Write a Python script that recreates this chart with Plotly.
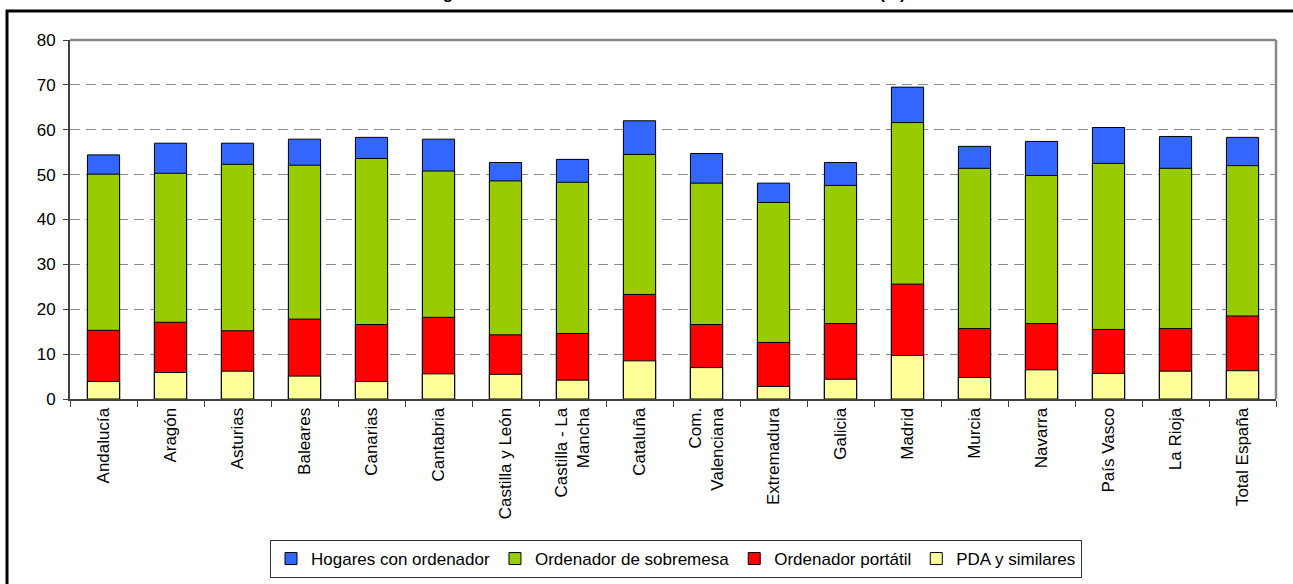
import plotly.graph_objects as go

categories = ["Andalucía", "Aragón", "Asturias", "Baleares", "Canarias", "Cantabria",
              "Castilla y León", "Castilla - La<br>Mancha", "Cataluña", "Com.<br>Valenciana",
              "Extremadura", "Galicia", "Madrid", "Murcia", "Navarra", "País Vasco",
              "La Rioja", "Total España"]

hogares = [54.4, 57.0, 57.0, 57.9, 58.3, 57.9, 52.7, 53.4, 62.0, 54.7, 48.1, 52.7,
           69.5, 56.3, 57.4, 60.5, 58.5, 58.3]
sobremesa = [50.1, 50.3, 52.3, 52.1, 53.6, 50.8, 48.6, 48.3, 54.5, 48.1, 43.8, 47.6,
             61.6, 51.4, 49.8, 52.5, 51.4, 52.0]
portatil = [15.3, 17.1, 15.2, 17.8, 16.6, 18.2, 14.3, 14.6, 23.3, 16.6, 12.6, 16.8,
            25.6, 15.7, 16.8, 15.5, 15.7, 18.5]
pda = [3.9, 5.9, 6.2, 5.1, 3.9, 5.6, 5.5, 4.2, 8.5, 7.0, 2.8, 4.4,
       9.7, 4.8, 6.5, 5.7, 6.2, 6.3]

series = [
    ("Hogares con ordenador", hogares, "#3366FF"),
    ("Ordenador de sobremesa", sobremesa, "#99CC00"),
    ("Ordenador portátil", portatil, "#FF0000"),
    ("PDA y similares", pda, "#FFFF99"),
]

title_text = "Los hogares con ordenador en las comunidades autónomas (%)"

FONT = "Arial, Liberation Sans, sans-serif"

fig = go.Figure()
for name, vals, col in series:
    fig.add_trace(go.Bar(
        x=categories, y=vals, name=name, width=0.48,
        marker=dict(color=col, line=dict(color="#000000", width=1)),
    ))

W, H = 1293, 584
L, R, T, B = 70, 17, 40, 185
pw, ph = W - L - R, H - T - B

def px_x(px):
    return (px - L) / pw

def px_y(py):
    return (H - B - py) / ph

fig.update_layout(
    width=W, height=H,
    margin=dict(l=L, r=R, t=T, b=B, autoexpand=False),
    paper_bgcolor="white", plot_bgcolor="white",
    barmode="overlay",
    font=dict(family=FONT, size=17, color="#000000"),
    showlegend=True,
    legend=dict(orientation="h", x=px_x(676), xanchor="center",
                y=px_y(540), yanchor="top",
                bordercolor="#333333", borderwidth=1, bgcolor="white",
                font=dict(family=FONT, size=17, color="#000000"),
                itemwidth=30, traceorder="normal", tracegroupgap=0),
    xaxis=dict(
        tickangle=-90, tickfont=dict(family=FONT, size=17, color="#000000"),
        showline=True, linecolor="#404040", linewidth=2,
        ticks="outside", tickson="boundaries", ticklen=6, tickcolor="#404040",
        showgrid=False, fixedrange=True, automargin=False,
    ),
    yaxis=dict(
        range=[0, 80], dtick=10, tickfont=dict(family=FONT, size=17, color="#000000"),
        showline=True, linecolor="#404040", linewidth=2,
        ticks="outside", ticklen=5, tickcolor="#404040", ticklabelstandoff=4,
        showgrid=True, gridcolor="#8a8a8a", gridwidth=1, griddash="10px,6px",
        zeroline=False, fixedrange=True, automargin=False,
    ),
    annotations=[
        dict(text="<b>" + title_text + "</b>", xref="paper", yref="paper",
             x=px_x(646), y=px_y(5.5), xanchor="center", yanchor="bottom",
             showarrow=False, font=dict(family=FONT, size=17, color="#000000")),
    ],
    shapes=[
        dict(type="line", xref="paper", yref="paper", x0=0, x1=1, y0=1, y1=1,
             line=dict(color="#888888", width=2.5)),
        dict(type="line", xref="paper", yref="paper", x0=1, x1=1, y0=0, y1=1,
             line=dict(color="#888888", width=2.5)),
        dict(type="rect", xref="paper", yref="paper",
             x0=px_x(7), x1=px_x(1400), y0=px_y(11), y1=px_y(700),
             line=dict(color="#000000", width=3), fillcolor="rgba(0,0,0,0)",
             layer="below"),
    ],
)

fig.write_html(
    "out.html",
    config={"displayModeBar": False},
    post_script="document.body.style.margin='0';document.body.style.overflow='hidden';",
)
